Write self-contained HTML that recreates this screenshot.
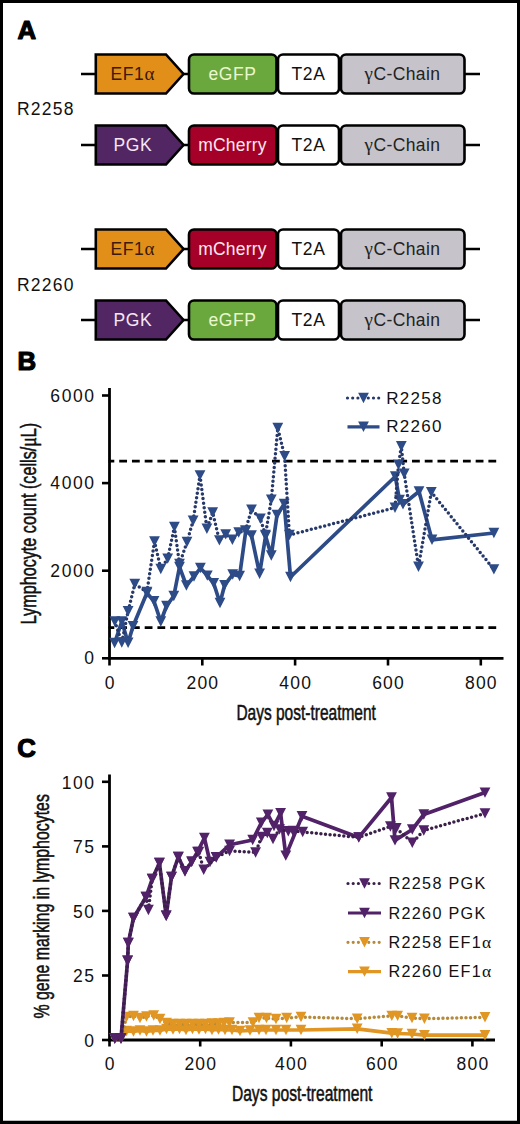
<!DOCTYPE html>
<html><head><meta charset="utf-8"><title>Figure</title><style>
html,body{margin:0;padding:0;background:#fff;width:520px;height:1124px;overflow:hidden}
svg{display:block}
text{font-family:"Liberation Sans", sans-serif}
</style></head><body>
<svg width="520" height="1124" viewBox="0 0 520 1124">
<line x1="81" y1="74" x2="480" y2="74" stroke="#000" stroke-width="2.6"/>
<path d="M95.8 54.5 L166 54.5 L183.5 74 L166 93.5 L95.8 93.5 Z" fill="#E28F1A" stroke="#000" stroke-width="2.6" stroke-linejoin="miter"/>
<text x="110.5" y="79.6" font-size="17.5" fill="#3a1a08" letter-spacing="0.6">EF1<tspan font-family="Liberation Serif" font-size="19">&#945;</tspan></text>
<rect x="189" y="54.5" width="87.5" height="39.0" rx="5" fill="#6AA83E" stroke="#000" stroke-width="2.6"/>
<rect x="278" y="54.5" width="61" height="39.0" rx="5" fill="#fff" stroke="#000" stroke-width="2.6"/>
<rect x="341" y="54.5" width="123.5" height="39.0" rx="5" fill="#C6C4CA" stroke="#000" stroke-width="2.6"/>
<text x="232.5" y="79.7" font-size="17.5" fill="#eaf7cf" text-anchor="middle" letter-spacing="0.6">eGFP</text>
<text x="308.5" y="79.7" font-size="17.5" fill="#111" text-anchor="middle" letter-spacing="0.6">T2A</text>
<text x="402.5" y="79.7" font-size="17.5" fill="#222" text-anchor="middle" letter-spacing="0.4"><tspan font-family="Liberation Serif" font-size="19">&#947;</tspan>C-Chain</text>
<line x1="81" y1="145" x2="480" y2="145" stroke="#000" stroke-width="2.6"/>
<path d="M95.8 125.5 L166 125.5 L183.5 145 L166 164.5 L95.8 164.5 Z" fill="#522662" stroke="#000" stroke-width="2.6" stroke-linejoin="miter"/>
<text x="113.5" y="150.8" font-size="17.5" fill="#f6e6f6" letter-spacing="0.6">PGK</text>
<rect x="189" y="125.5" width="87.5" height="39.0" rx="5" fill="#A50028" stroke="#000" stroke-width="2.6"/>
<rect x="278" y="125.5" width="61" height="39.0" rx="5" fill="#fff" stroke="#000" stroke-width="2.6"/>
<rect x="341" y="125.5" width="123.5" height="39.0" rx="5" fill="#C6C4CA" stroke="#000" stroke-width="2.6"/>
<text x="232.5" y="150.7" font-size="17.5" fill="#fbe8ee" text-anchor="middle" letter-spacing="0.2">mCherry</text>
<text x="308.5" y="150.7" font-size="17.5" fill="#111" text-anchor="middle" letter-spacing="0.6">T2A</text>
<text x="402.5" y="150.7" font-size="17.5" fill="#222" text-anchor="middle" letter-spacing="0.4"><tspan font-family="Liberation Serif" font-size="19">&#947;</tspan>C-Chain</text>
<line x1="81" y1="249" x2="480" y2="249" stroke="#000" stroke-width="2.6"/>
<path d="M95.8 229.5 L166 229.5 L183.5 249 L166 268.5 L95.8 268.5 Z" fill="#E28F1A" stroke="#000" stroke-width="2.6" stroke-linejoin="miter"/>
<text x="110.5" y="254.6" font-size="17.5" fill="#3a1a08" letter-spacing="0.6">EF1<tspan font-family="Liberation Serif" font-size="19">&#945;</tspan></text>
<rect x="189" y="229.5" width="87.5" height="39.0" rx="5" fill="#A50028" stroke="#000" stroke-width="2.6"/>
<rect x="278" y="229.5" width="61" height="39.0" rx="5" fill="#fff" stroke="#000" stroke-width="2.6"/>
<rect x="341" y="229.5" width="123.5" height="39.0" rx="5" fill="#C6C4CA" stroke="#000" stroke-width="2.6"/>
<text x="232.5" y="254.7" font-size="17.5" fill="#fbe8ee" text-anchor="middle" letter-spacing="0.2">mCherry</text>
<text x="308.5" y="254.7" font-size="17.5" fill="#111" text-anchor="middle" letter-spacing="0.6">T2A</text>
<text x="402.5" y="254.7" font-size="17.5" fill="#222" text-anchor="middle" letter-spacing="0.4"><tspan font-family="Liberation Serif" font-size="19">&#947;</tspan>C-Chain</text>
<line x1="81" y1="320" x2="480" y2="320" stroke="#000" stroke-width="2.6"/>
<path d="M95.8 300.5 L166 300.5 L183.5 320 L166 339.5 L95.8 339.5 Z" fill="#522662" stroke="#000" stroke-width="2.6" stroke-linejoin="miter"/>
<text x="113.5" y="325.8" font-size="17.5" fill="#f6e6f6" letter-spacing="0.6">PGK</text>
<rect x="189" y="300.5" width="87.5" height="39.0" rx="5" fill="#6AA83E" stroke="#000" stroke-width="2.6"/>
<rect x="278" y="300.5" width="61" height="39.0" rx="5" fill="#fff" stroke="#000" stroke-width="2.6"/>
<rect x="341" y="300.5" width="123.5" height="39.0" rx="5" fill="#C6C4CA" stroke="#000" stroke-width="2.6"/>
<text x="232.5" y="325.7" font-size="17.5" fill="#eaf7cf" text-anchor="middle" letter-spacing="0.6">eGFP</text>
<text x="308.5" y="325.7" font-size="17.5" fill="#111" text-anchor="middle" letter-spacing="0.6">T2A</text>
<text x="402.5" y="325.7" font-size="17.5" fill="#222" text-anchor="middle" letter-spacing="0.4"><tspan font-family="Liberation Serif" font-size="19">&#947;</tspan>C-Chain</text>
<text x="17.0" y="114.6" font-size="17.5" letter-spacing="1.2" fill="#111">R2258</text>
<text x="17.0" y="290.5" font-size="17.5" letter-spacing="1.2" fill="#111">R2260</text>
<text x="17.4" y="39.2" font-size="25.8" font-weight="bold" stroke="#000" stroke-width="1.2" stroke-linejoin="round">A</text>
<text x="17.6" y="370.2" font-size="25.8" font-weight="bold" stroke="#000" stroke-width="1.2" stroke-linejoin="round">B</text>
<text x="17.2" y="756.8" font-size="25.8" font-weight="bold" stroke="#000" stroke-width="1.2" stroke-linejoin="round">C</text>
<line x1="109.5" y1="388" x2="109.5" y2="659.6999999999999" stroke="#000" stroke-width="2.8"/>
<line x1="108.1" y1="658.3" x2="503.5" y2="658.3" stroke="#000" stroke-width="2.8"/>
<line x1="102" y1="658.3" x2="109.5" y2="658.3" stroke="#000" stroke-width="2.6"/>
<text x="95.7" y="664.3" font-size="17.5" letter-spacing="1.6" text-anchor="end" fill="#111">0</text>
<line x1="102" y1="570.7" x2="109.5" y2="570.7" stroke="#000" stroke-width="2.6"/>
<text x="95.7" y="576.7" font-size="17.5" letter-spacing="1.6" text-anchor="end" fill="#111">2000</text>
<line x1="102" y1="483.1" x2="109.5" y2="483.1" stroke="#000" stroke-width="2.6"/>
<text x="95.7" y="489.1" font-size="17.5" letter-spacing="1.6" text-anchor="end" fill="#111">4000</text>
<line x1="102" y1="395.5" x2="109.5" y2="395.5" stroke="#000" stroke-width="2.6"/>
<text x="95.7" y="401.5" font-size="17.5" letter-spacing="1.6" text-anchor="end" fill="#111">6000</text>
<line x1="109.5" y1="658.3" x2="109.5" y2="665.5" stroke="#000" stroke-width="2.6"/>
<text x="110.1" y="688.8" font-size="17.5" letter-spacing="1.2" text-anchor="middle" fill="#111">0</text>
<line x1="202.3" y1="658.3" x2="202.3" y2="665.5" stroke="#000" stroke-width="2.6"/>
<text x="202.9" y="688.8" font-size="17.5" letter-spacing="1.2" text-anchor="middle" fill="#111">200</text>
<line x1="295.1" y1="658.3" x2="295.1" y2="665.5" stroke="#000" stroke-width="2.6"/>
<text x="295.7" y="688.8" font-size="17.5" letter-spacing="1.2" text-anchor="middle" fill="#111">400</text>
<line x1="388.0" y1="658.3" x2="388.0" y2="665.5" stroke="#000" stroke-width="2.6"/>
<text x="388.6" y="688.8" font-size="17.5" letter-spacing="1.2" text-anchor="middle" fill="#111">600</text>
<line x1="480.8" y1="658.3" x2="480.8" y2="665.5" stroke="#000" stroke-width="2.6"/>
<text x="481.4" y="688.8" font-size="17.5" letter-spacing="1.2" text-anchor="middle" fill="#111">800</text>
<line x1="108.6" y1="461.2" x2="496.5" y2="461.2" stroke="#000" stroke-width="2.8" stroke-dasharray="7.8 4.93" stroke-dashoffset="2.1"/>
<line x1="108.6" y1="627.6" x2="496.5" y2="627.6" stroke="#000" stroke-width="2.8" stroke-dasharray="7.8 4.93" stroke-dashoffset="2.1"/>
<text x="236.4" y="720.3" font-size="22.4" textLength="139.5" lengthAdjust="spacingAndGlyphs" fill="#111" stroke="#111" stroke-width="0.55">Days post-treatment</text>
<text transform="translate(36.0,624.3) rotate(-90)" x="0" y="0" font-size="21.8" textLength="201.5" lengthAdjust="spacingAndGlyphs" fill="#111" stroke="#111" stroke-width="0.55">Lymphocyte count (cells/<tspan font-family="Liberation Serif" font-size="24">&#956;</tspan>L)</text>
<line x1="109.5" y1="774.4" x2="109.5" y2="1041.4" stroke="#000" stroke-width="2.8"/>
<line x1="108.1" y1="1040.0" x2="495" y2="1040.0" stroke="#000" stroke-width="2.8"/>
<line x1="102" y1="1040.0" x2="109.5" y2="1040.0" stroke="#000" stroke-width="2.6"/>
<text x="95.7" y="1046.8" font-size="17.5" letter-spacing="1.6" text-anchor="end" fill="#111">0</text>
<line x1="102" y1="975.5" x2="109.5" y2="975.5" stroke="#000" stroke-width="2.6"/>
<text x="95.7" y="982.2" font-size="17.5" letter-spacing="1.6" text-anchor="end" fill="#111">25</text>
<line x1="102" y1="910.9" x2="109.5" y2="910.9" stroke="#000" stroke-width="2.6"/>
<text x="95.7" y="917.7" font-size="17.5" letter-spacing="1.6" text-anchor="end" fill="#111">50</text>
<line x1="102" y1="846.4" x2="109.5" y2="846.4" stroke="#000" stroke-width="2.6"/>
<text x="95.7" y="853.1" font-size="17.5" letter-spacing="1.6" text-anchor="end" fill="#111">75</text>
<line x1="102" y1="781.8" x2="109.5" y2="781.8" stroke="#000" stroke-width="2.6"/>
<text x="95.7" y="788.6" font-size="17.5" letter-spacing="1.6" text-anchor="end" fill="#111">100</text>
<line x1="109.5" y1="1040.0" x2="109.5" y2="1046.5" stroke="#000" stroke-width="2.6"/>
<text x="110.1" y="1069.5" font-size="17.5" letter-spacing="1.2" text-anchor="middle" fill="#111">0</text>
<line x1="200.2" y1="1040.0" x2="200.2" y2="1046.5" stroke="#000" stroke-width="2.6"/>
<text x="200.8" y="1069.5" font-size="17.5" letter-spacing="1.2" text-anchor="middle" fill="#111">200</text>
<line x1="290.9" y1="1040.0" x2="290.9" y2="1046.5" stroke="#000" stroke-width="2.6"/>
<text x="291.5" y="1069.5" font-size="17.5" letter-spacing="1.2" text-anchor="middle" fill="#111">400</text>
<line x1="381.7" y1="1040.0" x2="381.7" y2="1046.5" stroke="#000" stroke-width="2.6"/>
<text x="382.3" y="1069.5" font-size="17.5" letter-spacing="1.2" text-anchor="middle" fill="#111">600</text>
<line x1="472.4" y1="1040.0" x2="472.4" y2="1046.5" stroke="#000" stroke-width="2.6"/>
<text x="473.0" y="1069.5" font-size="17.5" letter-spacing="1.2" text-anchor="middle" fill="#111">800</text>
<text x="231.9" y="1101.4" font-size="22.4" textLength="140.5" lengthAdjust="spacingAndGlyphs" fill="#111" stroke="#111" stroke-width="0.55">Days post-treatment</text>
<text transform="translate(48.6,1018.6) rotate(-90)" x="0" y="0" font-size="21.8" textLength="224.5" lengthAdjust="spacingAndGlyphs" fill="#111" stroke="#111" stroke-width="0.55">% gene marking in lymphocytes</text>
<path d="M114.6 643.0 L121.8 621.5 L128.1 642.8 L133.0 626.2 L146.9 593.0 L154.0 601.3 L160.8 621.5 L166.5 606.0 L173.8 596.0 L179.5 567.0 L186.4 585.5 L194.0 576.5 L200.4 568.0 L207.3 575.6 L213.7 583.2 L220.0 603.0 L224.6 585.2 L232.7 574.5 L239.6 576.0 L245.8 530.8 L251.5 535.5 L259.6 573.8 L265.6 536.0 L271.3 555.5 L277.0 515.0 L284.2 504.0 L290.5 577.0 L395.3 476.5 L399.5 500.0 L403.0 504.2 L419.0 491.5 L432.0 539.8 L493.9 533.0" fill="none" stroke="#2D4B87" stroke-width="3.7" stroke-linejoin="round"/><path d="M109.2 637.8H120.0L114.6 648.2Z" fill="#2D4B87"/><path d="M116.4 616.3H127.2L121.8 626.7Z" fill="#2D4B87"/><path d="M122.7 637.6H133.5L128.1 648.0Z" fill="#2D4B87"/><path d="M127.6 621.0H138.4L133.0 631.4Z" fill="#2D4B87"/><path d="M141.5 587.8H152.3L146.9 598.2Z" fill="#2D4B87"/><path d="M148.6 596.1H159.4L154.0 606.5Z" fill="#2D4B87"/><path d="M155.4 616.3H166.2L160.8 626.7Z" fill="#2D4B87"/><path d="M161.1 600.8H171.9L166.5 611.2Z" fill="#2D4B87"/><path d="M168.4 590.8H179.2L173.8 601.2Z" fill="#2D4B87"/><path d="M174.1 561.8H184.9L179.5 572.2Z" fill="#2D4B87"/><path d="M181.0 580.3H191.8L186.4 590.7Z" fill="#2D4B87"/><path d="M188.6 571.3H199.4L194.0 581.7Z" fill="#2D4B87"/><path d="M195.0 562.8H205.8L200.4 573.2Z" fill="#2D4B87"/><path d="M201.9 570.4H212.7L207.3 580.8Z" fill="#2D4B87"/><path d="M208.3 578.0H219.1L213.7 588.4Z" fill="#2D4B87"/><path d="M214.6 597.8H225.4L220.0 608.2Z" fill="#2D4B87"/><path d="M219.2 580.0H230.0L224.6 590.4Z" fill="#2D4B87"/><path d="M227.3 569.3H238.1L232.7 579.7Z" fill="#2D4B87"/><path d="M234.2 570.8H245.0L239.6 581.2Z" fill="#2D4B87"/><path d="M240.4 525.6H251.2L245.8 536.0Z" fill="#2D4B87"/><path d="M246.1 530.3H256.9L251.5 540.7Z" fill="#2D4B87"/><path d="M254.2 568.6H265.0L259.6 579.0Z" fill="#2D4B87"/><path d="M260.2 530.8H271.0L265.6 541.2Z" fill="#2D4B87"/><path d="M265.9 550.3H276.7L271.3 560.7Z" fill="#2D4B87"/><path d="M271.6 509.8H282.4L277.0 520.2Z" fill="#2D4B87"/><path d="M278.8 498.8H289.6L284.2 509.2Z" fill="#2D4B87"/><path d="M285.1 571.8H295.9L290.5 582.2Z" fill="#2D4B87"/><path d="M389.9 471.3H400.7L395.3 481.7Z" fill="#2D4B87"/><path d="M394.1 494.8H404.9L399.5 505.2Z" fill="#2D4B87"/><path d="M397.6 499.0H408.4L403.0 509.4Z" fill="#2D4B87"/><path d="M413.6 486.3H424.4L419.0 496.7Z" fill="#2D4B87"/><path d="M426.6 534.6H437.4L432.0 545.0Z" fill="#2D4B87"/><path d="M488.5 527.8H499.3L493.9 538.2Z" fill="#2D4B87"/>
<path d="M114.8 621.5 L121.8 642.5 L128.1 611.3 L134.8 584.0 L146.9 592.0 L154.5 541.5 L160.8 569.0 L167.7 558.6 L174.4 527.0 L179.5 564.0 L187.0 542.0 L193.1 520.7 L200.0 475.4 L206.9 528.8 L212.7 512.5 L219.4 540.4 L225.7 534.4 L232.4 539.7 L238.7 532.5 L245.4 530.6 L251.5 509.6 L260.4 518.8 L265.4 535.0 L271.3 499.6 L277.8 428.0 L284.6 456.2 L289.4 535.0 L395.0 507.7 L398.5 464.8 L401.3 446.3 L404.2 473.7 L418.5 566.7 L431.3 492.1 L493.9 569.4" fill="none" stroke="#27396a" stroke-width="3.5" stroke-linecap="round" stroke-dasharray="0 4.6" stroke-linejoin="round"/><path d="M109.4 616.3H120.2L114.8 626.7Z" fill="#2D4B87"/><path d="M116.4 637.3H127.2L121.8 647.7Z" fill="#2D4B87"/><path d="M122.7 606.1H133.5L128.1 616.5Z" fill="#2D4B87"/><path d="M129.4 578.8H140.2L134.8 589.2Z" fill="#2D4B87"/><path d="M141.5 586.8H152.3L146.9 597.2Z" fill="#2D4B87"/><path d="M149.1 536.3H159.9L154.5 546.7Z" fill="#2D4B87"/><path d="M155.4 563.8H166.2L160.8 574.2Z" fill="#2D4B87"/><path d="M162.3 553.4H173.1L167.7 563.8Z" fill="#2D4B87"/><path d="M169.0 521.8H179.8L174.4 532.2Z" fill="#2D4B87"/><path d="M174.1 558.8H184.9L179.5 569.2Z" fill="#2D4B87"/><path d="M181.6 536.8H192.4L187.0 547.2Z" fill="#2D4B87"/><path d="M187.7 515.5H198.5L193.1 525.9Z" fill="#2D4B87"/><path d="M194.6 470.2H205.4L200.0 480.6Z" fill="#2D4B87"/><path d="M201.5 523.6H212.3L206.9 534.0Z" fill="#2D4B87"/><path d="M207.3 507.3H218.1L212.7 517.7Z" fill="#2D4B87"/><path d="M214.0 535.2H224.8L219.4 545.6Z" fill="#2D4B87"/><path d="M220.3 529.2H231.1L225.7 539.6Z" fill="#2D4B87"/><path d="M227.0 534.5H237.8L232.4 544.9Z" fill="#2D4B87"/><path d="M233.3 527.3H244.1L238.7 537.7Z" fill="#2D4B87"/><path d="M240.0 525.4H250.8L245.4 535.8Z" fill="#2D4B87"/><path d="M246.1 504.4H256.9L251.5 514.8Z" fill="#2D4B87"/><path d="M255.0 513.6H265.8L260.4 524.0Z" fill="#2D4B87"/><path d="M260.0 529.8H270.8L265.4 540.2Z" fill="#2D4B87"/><path d="M265.9 494.4H276.7L271.3 504.8Z" fill="#2D4B87"/><path d="M272.4 422.8H283.2L277.8 433.2Z" fill="#2D4B87"/><path d="M279.2 451.0H290.0L284.6 461.4Z" fill="#2D4B87"/><path d="M284.0 529.8H294.8L289.4 540.2Z" fill="#2D4B87"/><path d="M389.6 502.5H400.4L395.0 512.9Z" fill="#2D4B87"/><path d="M393.1 459.6H403.9L398.5 470.0Z" fill="#2D4B87"/><path d="M395.9 441.1H406.7L401.3 451.5Z" fill="#2D4B87"/><path d="M398.8 468.5H409.6L404.2 478.9Z" fill="#2D4B87"/><path d="M413.1 561.5H423.9L418.5 571.9Z" fill="#2D4B87"/><path d="M425.9 486.9H436.7L431.3 497.3Z" fill="#2D4B87"/><path d="M488.5 564.2H499.3L493.9 574.6Z" fill="#2D4B87"/>
<path d="M114.8 1038.5 L121.0 1038.5 L126.5 1031.0 L133.5 1031.5 L140.0 1030.5 L146.5 1031.5 L153.0 1030.5 L160.0 1030.5 L166.5 1029.0 L173.0 1029.5 L179.5 1029.0 L186.0 1030.0 L192.5 1029.0 L199.0 1029.5 L205.5 1029.0 L212.0 1030.0 L218.5 1029.5 L225.0 1030.0 L232.0 1030.0 L240.0 1031.0 L250.0 1030.5 L259.0 1030.0 L266.0 1030.0 L276.0 1030.0 L286.0 1030.0 L301.0 1030.0 L357.2 1028.8 L391.8 1033.2 L397.6 1033.5 L412.0 1034.0 L424.4 1035.2 L485.0 1035.2" fill="none" stroke="#E19623" stroke-width="3.7" stroke-linejoin="round"/><path d="M109.4 1033.3H120.2L114.8 1043.7Z" fill="#E19623"/><path d="M115.6 1033.3H126.4L121.0 1043.7Z" fill="#E19623"/><path d="M121.1 1025.8H131.9L126.5 1036.2Z" fill="#E19623"/><path d="M128.1 1026.3H138.9L133.5 1036.7Z" fill="#E19623"/><path d="M134.6 1025.3H145.4L140.0 1035.7Z" fill="#E19623"/><path d="M141.1 1026.3H151.9L146.5 1036.7Z" fill="#E19623"/><path d="M147.6 1025.3H158.4L153.0 1035.7Z" fill="#E19623"/><path d="M154.6 1025.3H165.4L160.0 1035.7Z" fill="#E19623"/><path d="M161.1 1023.8H171.9L166.5 1034.2Z" fill="#E19623"/><path d="M167.6 1024.3H178.4L173.0 1034.7Z" fill="#E19623"/><path d="M174.1 1023.8H184.9L179.5 1034.2Z" fill="#E19623"/><path d="M180.6 1024.8H191.4L186.0 1035.2Z" fill="#E19623"/><path d="M187.1 1023.8H197.9L192.5 1034.2Z" fill="#E19623"/><path d="M193.6 1024.3H204.4L199.0 1034.7Z" fill="#E19623"/><path d="M200.1 1023.8H210.9L205.5 1034.2Z" fill="#E19623"/><path d="M206.6 1024.8H217.4L212.0 1035.2Z" fill="#E19623"/><path d="M213.1 1024.3H223.9L218.5 1034.7Z" fill="#E19623"/><path d="M219.6 1024.8H230.4L225.0 1035.2Z" fill="#E19623"/><path d="M226.6 1024.8H237.4L232.0 1035.2Z" fill="#E19623"/><path d="M234.6 1025.8H245.4L240.0 1036.2Z" fill="#E19623"/><path d="M244.6 1025.3H255.4L250.0 1035.7Z" fill="#E19623"/><path d="M253.6 1024.8H264.4L259.0 1035.2Z" fill="#E19623"/><path d="M260.6 1024.8H271.4L266.0 1035.2Z" fill="#E19623"/><path d="M270.6 1024.8H281.4L276.0 1035.2Z" fill="#E19623"/><path d="M280.6 1024.8H291.4L286.0 1035.2Z" fill="#E19623"/><path d="M295.6 1024.8H306.4L301.0 1035.2Z" fill="#E19623"/><path d="M351.8 1023.6H362.6L357.2 1034.0Z" fill="#E19623"/><path d="M386.4 1028.0H397.2L391.8 1038.4Z" fill="#E19623"/><path d="M392.2 1028.3H403.0L397.6 1038.7Z" fill="#E19623"/><path d="M406.6 1028.8H417.4L412.0 1039.2Z" fill="#E19623"/><path d="M419.0 1030.0H429.8L424.4 1040.4Z" fill="#E19623"/><path d="M479.6 1030.0H490.4L485.0 1040.4Z" fill="#E19623"/>
<path d="M114.8 1038.5 L121.0 1038.5 L126.5 1017.0 L133.5 1016.0 L140.0 1018.0 L146.5 1016.5 L153.7 1015.5 L160.0 1019.0 L166.5 1023.0 L173.0 1024.0 L179.5 1024.0 L186.0 1024.0 L192.5 1024.0 L199.0 1024.0 L205.5 1024.0 L212.0 1023.5 L218.5 1023.5 L224.0 1023.0 L229.5 1022.5 L253.0 1022.5 L259.0 1018.0 L266.5 1018.0 L276.0 1019.0 L286.7 1018.0 L301.0 1017.0 L357.2 1018.7 L391.8 1015.9 L397.6 1015.9 L412.0 1018.0 L424.4 1018.7 L485.0 1017.3" fill="none" stroke="#B58A3C" stroke-width="3.5" stroke-linecap="round" stroke-dasharray="0 4.6" stroke-linejoin="round"/><path d="M109.4 1033.3H120.2L114.8 1043.7Z" fill="#E19623"/><path d="M115.6 1033.3H126.4L121.0 1043.7Z" fill="#E19623"/><path d="M121.1 1011.8H131.9L126.5 1022.2Z" fill="#E19623"/><path d="M128.1 1010.8H138.9L133.5 1021.2Z" fill="#E19623"/><path d="M134.6 1012.8H145.4L140.0 1023.2Z" fill="#E19623"/><path d="M141.1 1011.3H151.9L146.5 1021.7Z" fill="#E19623"/><path d="M148.3 1010.3H159.1L153.7 1020.7Z" fill="#E19623"/><path d="M154.6 1013.8H165.4L160.0 1024.2Z" fill="#E19623"/><path d="M161.1 1017.8H171.9L166.5 1028.2Z" fill="#E19623"/><path d="M167.6 1018.8H178.4L173.0 1029.2Z" fill="#E19623"/><path d="M174.1 1018.8H184.9L179.5 1029.2Z" fill="#E19623"/><path d="M180.6 1018.8H191.4L186.0 1029.2Z" fill="#E19623"/><path d="M187.1 1018.8H197.9L192.5 1029.2Z" fill="#E19623"/><path d="M193.6 1018.8H204.4L199.0 1029.2Z" fill="#E19623"/><path d="M200.1 1018.8H210.9L205.5 1029.2Z" fill="#E19623"/><path d="M206.6 1018.3H217.4L212.0 1028.7Z" fill="#E19623"/><path d="M213.1 1018.3H223.9L218.5 1028.7Z" fill="#E19623"/><path d="M218.6 1017.8H229.4L224.0 1028.2Z" fill="#E19623"/><path d="M224.1 1017.3H234.9L229.5 1027.7Z" fill="#E19623"/><path d="M247.6 1017.3H258.4L253.0 1027.7Z" fill="#E19623"/><path d="M253.6 1012.8H264.4L259.0 1023.2Z" fill="#E19623"/><path d="M261.1 1012.8H271.9L266.5 1023.2Z" fill="#E19623"/><path d="M270.6 1013.8H281.4L276.0 1024.2Z" fill="#E19623"/><path d="M281.3 1012.8H292.1L286.7 1023.2Z" fill="#E19623"/><path d="M295.6 1011.8H306.4L301.0 1022.2Z" fill="#E19623"/><path d="M351.8 1013.5H362.6L357.2 1023.9Z" fill="#E19623"/><path d="M386.4 1010.7H397.2L391.8 1021.1Z" fill="#E19623"/><path d="M392.2 1010.7H403.0L397.6 1021.1Z" fill="#E19623"/><path d="M406.6 1012.8H417.4L412.0 1023.2Z" fill="#E19623"/><path d="M419.0 1013.5H429.8L424.4 1023.9Z" fill="#E19623"/><path d="M479.6 1012.1H490.4L485.0 1022.5Z" fill="#E19623"/>
<path d="M114.8 1038.5 L121.0 1038.5 L127.6 960.7 L128.3 943.0 L133.5 918.0 L146.0 897.0 L152.2 879.0 L159.4 863.0 L166.2 915.7 L171.5 877.0 L178.3 857.0 L185.0 871.3 L191.7 861.7 L197.5 852.0 L204.4 838.0 L210.0 862.0 L216.2 857.3 L229.6 844.8 L252.7 840.0 L261.3 822.7 L267.9 814.6 L274.0 826.0 L280.6 813.2 L285.8 855.6 L302.0 816.3 L358.8 837.4 L391.5 797.5 L395.0 840.4 L412.3 829.5 L423.8 814.5 L485.0 792.6" fill="none" stroke="#512268" stroke-width="3.7" stroke-linejoin="round"/><path d="M109.4 1033.3H120.2L114.8 1043.7Z" fill="#512268"/><path d="M115.6 1033.3H126.4L121.0 1043.7Z" fill="#512268"/><path d="M122.2 955.5H133.0L127.6 965.9Z" fill="#512268"/><path d="M122.9 937.8H133.7L128.3 948.2Z" fill="#512268"/><path d="M128.1 912.8H138.9L133.5 923.2Z" fill="#512268"/><path d="M140.6 891.8H151.4L146.0 902.2Z" fill="#512268"/><path d="M146.8 873.8H157.6L152.2 884.2Z" fill="#512268"/><path d="M154.0 857.8H164.8L159.4 868.2Z" fill="#512268"/><path d="M160.8 910.5H171.6L166.2 920.9Z" fill="#512268"/><path d="M166.1 871.8H176.9L171.5 882.2Z" fill="#512268"/><path d="M172.9 851.8H183.7L178.3 862.2Z" fill="#512268"/><path d="M179.6 866.1H190.4L185.0 876.5Z" fill="#512268"/><path d="M186.3 856.5H197.1L191.7 866.9Z" fill="#512268"/><path d="M192.1 846.8H202.9L197.5 857.2Z" fill="#512268"/><path d="M199.0 832.8H209.8L204.4 843.2Z" fill="#512268"/><path d="M204.6 856.8H215.4L210.0 867.2Z" fill="#512268"/><path d="M210.8 852.1H221.6L216.2 862.5Z" fill="#512268"/><path d="M224.2 839.6H235.0L229.6 850.0Z" fill="#512268"/><path d="M247.3 834.8H258.1L252.7 845.2Z" fill="#512268"/><path d="M255.9 817.5H266.7L261.3 827.9Z" fill="#512268"/><path d="M262.5 809.4H273.3L267.9 819.8Z" fill="#512268"/><path d="M268.6 820.8H279.4L274.0 831.2Z" fill="#512268"/><path d="M275.2 808.0H286.0L280.6 818.4Z" fill="#512268"/><path d="M280.4 850.4H291.2L285.8 860.8Z" fill="#512268"/><path d="M296.6 811.1H307.4L302.0 821.5Z" fill="#512268"/><path d="M353.4 832.2H364.2L358.8 842.6Z" fill="#512268"/><path d="M386.1 792.3H396.9L391.5 802.7Z" fill="#512268"/><path d="M389.6 835.2H400.4L395.0 845.6Z" fill="#512268"/><path d="M406.9 824.3H417.7L412.3 834.7Z" fill="#512268"/><path d="M418.4 809.3H429.2L423.8 819.7Z" fill="#512268"/><path d="M479.6 787.4H490.4L485.0 797.8Z" fill="#512268"/>
<path d="M114.8 1038.5 L121.0 1038.5 L127.6 960.7 L128.3 943.0 L133.5 918.0 L146.0 897.0 L148.4 910.0 L152.2 879.0 L159.4 863.0 L166.2 915.7 L171.5 877.0 L178.3 857.0 L185.0 871.3 L191.7 861.7 L198.8 852.0 L203.7 869.8 L216.2 857.3 L229.6 851.0 L255.6 852.5 L261.5 837.0 L267.3 833.0 L273.0 839.0 L279.6 829.4 L288.3 831.3 L293.0 831.0 L302.7 832.0 L358.8 837.4 L390.4 826.5 L396.2 828.2 L412.3 842.7 L423.8 830.5 L485.0 813.4" fill="none" stroke="#3a2048" stroke-width="3.5" stroke-linecap="round" stroke-dasharray="0 4.6" stroke-linejoin="round"/><path d="M109.4 1033.3H120.2L114.8 1043.7Z" fill="#512268"/><path d="M115.6 1033.3H126.4L121.0 1043.7Z" fill="#512268"/><path d="M122.2 955.5H133.0L127.6 965.9Z" fill="#512268"/><path d="M122.9 937.8H133.7L128.3 948.2Z" fill="#512268"/><path d="M128.1 912.8H138.9L133.5 923.2Z" fill="#512268"/><path d="M140.6 891.8H151.4L146.0 902.2Z" fill="#512268"/><path d="M143.0 904.8H153.8L148.4 915.2Z" fill="#512268"/><path d="M146.8 873.8H157.6L152.2 884.2Z" fill="#512268"/><path d="M154.0 857.8H164.8L159.4 868.2Z" fill="#512268"/><path d="M160.8 910.5H171.6L166.2 920.9Z" fill="#512268"/><path d="M166.1 871.8H176.9L171.5 882.2Z" fill="#512268"/><path d="M172.9 851.8H183.7L178.3 862.2Z" fill="#512268"/><path d="M179.6 866.1H190.4L185.0 876.5Z" fill="#512268"/><path d="M186.3 856.5H197.1L191.7 866.9Z" fill="#512268"/><path d="M193.4 846.8H204.2L198.8 857.2Z" fill="#512268"/><path d="M198.3 864.6H209.1L203.7 875.0Z" fill="#512268"/><path d="M210.8 852.1H221.6L216.2 862.5Z" fill="#512268"/><path d="M224.2 845.8H235.0L229.6 856.2Z" fill="#512268"/><path d="M250.2 847.3H261.0L255.6 857.7Z" fill="#512268"/><path d="M256.1 831.8H266.9L261.5 842.2Z" fill="#512268"/><path d="M261.9 827.8H272.7L267.3 838.2Z" fill="#512268"/><path d="M267.6 833.8H278.4L273.0 844.2Z" fill="#512268"/><path d="M274.2 824.2H285.0L279.6 834.6Z" fill="#512268"/><path d="M282.9 826.1H293.7L288.3 836.5Z" fill="#512268"/><path d="M287.6 825.8H298.4L293.0 836.2Z" fill="#512268"/><path d="M297.3 826.8H308.1L302.7 837.2Z" fill="#512268"/><path d="M353.4 832.2H364.2L358.8 842.6Z" fill="#512268"/><path d="M385.0 821.3H395.8L390.4 831.7Z" fill="#512268"/><path d="M390.8 823.0H401.6L396.2 833.4Z" fill="#512268"/><path d="M406.9 837.5H417.7L412.3 847.9Z" fill="#512268"/><path d="M418.4 825.3H429.2L423.8 835.7Z" fill="#512268"/><path d="M479.6 808.2H490.4L485.0 818.6Z" fill="#512268"/>
<line x1="347.5" y1="398" x2="379.5" y2="398" stroke="#27396a" stroke-width="3.2" stroke-linecap="round" stroke-dasharray="0 5.2"/><path d="M358.1 392.8H368.9L363.5 403.2Z" fill="#2D4B87"/><text x="386.2" y="403.6" font-size="17.0" letter-spacing="1.3" fill="#111">R2258</text>
<line x1="347.5" y1="426.8" x2="379.5" y2="426.8" stroke="#2D4B87" stroke-width="3.2"/><path d="M358.1 421.6H368.9L363.5 432.0Z" fill="#2D4B87"/><text x="386.2" y="432.4" font-size="17.0" letter-spacing="1.3" fill="#111">R2260</text>
<line x1="348" y1="883.5" x2="381" y2="883.5" stroke="#3a2048" stroke-width="3.2" stroke-linecap="round" stroke-dasharray="0 5.2"/><path d="M359.1 878.3H369.9L364.5 888.7Z" fill="#512268"/><text x="388.5" y="889.1" font-size="16.2" letter-spacing="1.3" fill="#111">R2258 PGK</text>
<line x1="348" y1="913" x2="381" y2="913" stroke="#512268" stroke-width="3.2"/><path d="M359.1 907.8H369.9L364.5 918.2Z" fill="#512268"/><text x="388.5" y="918.6" font-size="16.2" letter-spacing="1.3" fill="#111">R2260 PGK</text>
<line x1="348" y1="942.3" x2="381" y2="942.3" stroke="#B58A3C" stroke-width="3.2" stroke-linecap="round" stroke-dasharray="0 5.2"/><path d="M359.1 937.1H369.9L364.5 947.5Z" fill="#E19623"/><text x="388.5" y="947.9" font-size="16.2" letter-spacing="1.3" fill="#111">R2258 EF1<tspan font-family="Liberation Serif" font-size="17.5">&#945;</tspan></text>
<line x1="348" y1="971.6" x2="381" y2="971.6" stroke="#E19623" stroke-width="3.2"/><path d="M359.1 966.4H369.9L364.5 976.8Z" fill="#E19623"/><text x="388.5" y="977.2" font-size="16.2" letter-spacing="1.3" fill="#111">R2260 EF1<tspan font-family="Liberation Serif" font-size="17.5">&#945;</tspan></text>
<path d="M0 0H520V1124H0Z M3 3V1120.7H517V3Z" fill="#000" fill-rule="evenodd"/>
</svg>
</body></html>
